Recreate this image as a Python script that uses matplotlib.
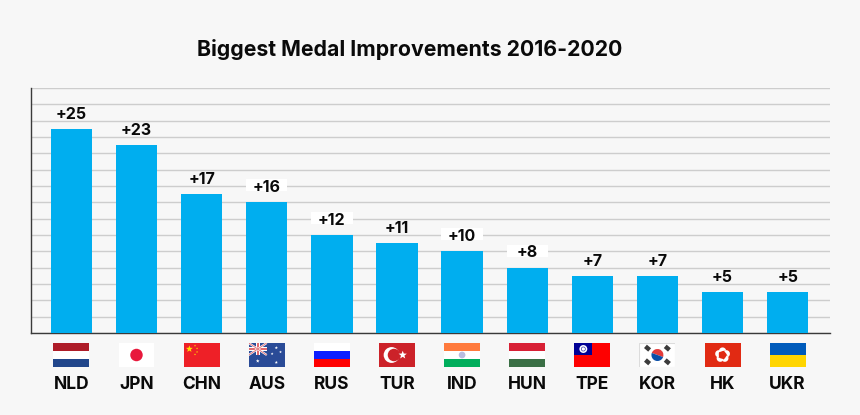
import numpy as np
import matplotlib
matplotlib.use("Agg")
import matplotlib.pyplot as plt
from matplotlib.patches import Rectangle, Polygon, Circle, Wedge

codes = ["NLD", "JPN", "CHN", "AUS", "RUS", "TUR", "IND", "HUN", "TPE", "KOR", "HK", "UKR"]
improvements = [25, 23, 17, 16, 12, 11, 10, 8, 7, 7, 5, 5]
boxed_labels = ["AUS", "RUS", "IND", "HUN"]
title = "Biggest Medal Improvements 2016-2020"

BG = "#f7f7f7"
BAR = "#00aeef"
GRID = "#cdcdcd"
FONT = "Inter"

W, H = 860, 415
fig = plt.figure(figsize=(W / 100, H / 100), dpi=100, facecolor=BG)
L, R, T, B = 31, 830, 88, 333
ax = fig.add_axes([L / W, 1 - B / H, (R - L) / W, (B - T) / H], facecolor=BG)
ax.set_xlim(-0.62, 11.65)
ax.set_ylim(0, 30)
ax.set_yticks(np.arange(0, 31, 2))
ax.tick_params(axis="y", length=0, labelleft=False)
ax.grid(axis="y", color=GRID, lw=1.0, zorder=0)
ax.set_axisbelow(True)
for s in ["top", "right"]:
    ax.spines[s].set_visible(False)
for s in ["left", "bottom"]:
    ax.spines[s].set_color("#3a3a3a")
    ax.spines[s].set_linewidth(1.0)

x = np.arange(len(codes))
ax.bar(x, improvements, width=0.635, color=BAR, zorder=3)

for i, (c, v) in enumerate(zip(codes, improvements)):
    if c in boxed_labels:
        ax.bar(i, 1.45, bottom=v + 1.35, width=0.635, color="white", zorder=2.5)
    ax.annotate(f"+{v}", (i, v), xytext=(0, 10.6), textcoords="offset points",
                ha="center", va="center", fontsize=11.5, fontweight="bold",
                family=FONT, color="#0a0a0a", zorder=4)

ax.set_xticks(x)
ax.set_xticklabels(codes, fontsize=12.5, fontweight="bold", family=FONT, color="#0a0a0a")
ax.tick_params(axis="x", length=0, pad=31)

fig.text(409.5 / W, 1 - 49 / H, title, ha="center", va="center", fontsize=15.3,
         fontweight="bold", family=FONT, color="#0a0a0a")


def stripes(a, cols, frac=None):
    n = len(cols)
    for k, col in enumerate(cols):
        a.add_patch(Rectangle((0, 2 - (k + 1) * 2 / n), 3, 2 / n, color=col, lw=0))


def star(a, cx, cy, r, col):
    ang = np.pi / 2 + np.arange(10) * np.pi / 5
    rad = np.where(np.arange(10) % 2 == 0, r, r * 0.42)
    a.add_patch(Polygon(np.c_[cx + rad * np.cos(ang), cy + rad * np.sin(ang)], color=col, lw=0))


def f_nld(a):
    stripes(a, ["#ae1c28", "#ffffff", "#21468b"])


def f_jpn(a):
    a.add_patch(Rectangle((0, 0), 3, 2, color="white", lw=0))
    a.add_patch(Circle((1.5, 1), 0.52, color="#e8193c", lw=0))


def f_chn(a):
    a.add_patch(Rectangle((0, 0), 3, 2, color="#ee2027", lw=0))
    star(a, 0.48, 1.5, 0.3, "#ffde00")
    for px, py in [(0.95, 1.78), (1.12, 1.55), (1.12, 1.25), (0.95, 1.05)]:
        star(a, px, py, 0.09, "#ffde00")


def f_aus(a):
    a.add_patch(Rectangle((0, 0), 3, 2, color="#2a4b97", lw=0))
    a.plot([0, 1.5], [2, 1], color="white", lw=1.5, solid_capstyle="butt")
    a.plot([0, 1.5], [1, 2], color="white", lw=1.5, solid_capstyle="butt")
    a.plot([0, 1.5], [2, 1], color="#e06a70", lw=0.6, solid_capstyle="butt")
    a.plot([0, 1.5], [1, 2], color="#e06a70", lw=0.6, solid_capstyle="butt")
    a.add_patch(Rectangle((0, 1.37), 1.5, 0.26, color="white", lw=0))
    a.add_patch(Rectangle((0.6, 1), 0.3, 1, color="white", lw=0))
    a.add_patch(Rectangle((0, 1.42), 1.5, 0.16, color="#e06a70", lw=0))
    a.add_patch(Rectangle((0.67, 1), 0.16, 1, color="#e06a70", lw=0))
    for px, py, r in [(0.75, 0.5, .16), (2.3, 0.38, .14), (2.3, 1.6, .14), (1.95, 1.1, .12), (2.65, 1.25, .12)]:
        star(a, px, py, r, "white")


def f_rus(a):
    a.add_patch(Rectangle((0, 0), 3, 2, fc="white", ec="#dddddd", lw=0.6))
    stripes(a, ["#ffffff", "#0c1eff", "#ff0000"])


def f_tur(a):
    a.add_patch(Rectangle((0, 0), 3, 2, color="#cc2229", lw=0))
    a.add_patch(Circle((1.05, 1), 0.66, color="white", lw=0))
    a.add_patch(Circle((1.25, 1), 0.52, color="#cc2229", lw=0))
    star(a, 1.98, 1, 0.36, "white")


def f_ind(a):
    stripes(a, ["#ff7a3d", "#ffffff", "#00ae5c"])
    a.add_patch(Circle((1.5, 1), 0.28, color="#b9bce0", lw=0))


def f_hun(a):
    stripes(a, ["#d82035", "#ffffff", "#3a6f45"])


def f_tpe(a):
    a.add_patch(Rectangle((0, 0), 3, 2, color="#fe0000", lw=0))
    a.add_patch(Rectangle((0, 1), 1.5, 1, color="#000095", lw=0))
    a.add_patch(Circle((0.75, 1.5), 0.33, color="white", lw=0))
    a.add_patch(Circle((0.75, 1.5), 0.2, color="#3f3fb0", lw=0))
    a.add_patch(Circle((0.75, 1.5), 0.14, color="white", lw=0))


def f_kor(a):
    a.add_patch(Rectangle((0, 0), 3, 2, color="white", ec="#dcdcdc", lw=0.8))
    a.add_patch(Wedge((1.5, 1), 0.5, -20, 160, color="#e23b3b", lw=0))
    a.add_patch(Wedge((1.5, 1), 0.5, 160, 340, color="#0a4fa8", lw=0))
    for sx in (-1, 1):
        for sy in (-1, 1):
            a.plot([1.5 + sx * 0.65, 1.5 + sx * 1.0], [1 + sy * 0.72, 1 + sy * 0.42] if sx == sy
                   else [1 + sy * 0.42, 1 + sy * 0.72], color="#3b3b3b", lw=3.2, solid_capstyle="butt")


def f_hk(a):
    a.add_patch(Rectangle((0, 0), 3, 2, color="#e12a13", lw=0))
    for k in range(5):
        ang = np.pi / 2 + k * 2 * np.pi / 5
        a.add_patch(Wedge((1.5 + 0.33 * np.cos(ang), 1 + 0.33 * np.sin(ang)), 0.3,
                          np.degrees(ang) - 80, np.degrees(ang) + 110, color="white", lw=0))


def f_ukr(a):
    stripes(a, ["#005bbb", "#ffd500"])


flags = [f_nld, f_jpn, f_chn, f_aus, f_rus, f_tur, f_ind, f_hun, f_tpe, f_kor, f_hk, f_ukr]
fw = 36 / 65.2
fb = -(367 - B) * 30 / (B - T)
fh = 24 * 30 / (B - T)
for i, fn in enumerate(flags):
    a = ax.inset_axes([i - fw / 2, fb, fw, fh], transform=ax.transData)
    a.set_xlim(0, 3)
    a.set_ylim(0, 2)
    a.axis("off")
    fn(a)

fig.savefig("out.png", dpi=100, facecolor=BG)
